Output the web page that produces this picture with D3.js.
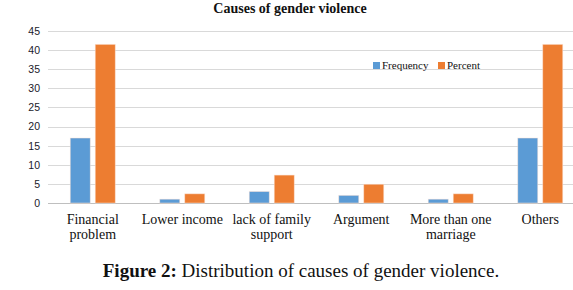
<!DOCTYPE html>
<html><head><meta charset="utf-8">
<script src="https://cdn.jsdelivr.net/npm/d3@7"></script>
<style>body{margin:0;background:#fff;} svg{display:block;} text{font-family:"Liberation Serif","DejaVu Serif",serif;}</style>
</head><body>
<svg id="c" width="573" height="290"></svg>
<script>
const categories = [["Financial","problem"],["Lower income"],["lack of family","support"],["Argument"],["More than one","marriage"],["Others"]];
const seriesNames = ["Frequency","Percent"];
const frequency = [17, 1, 3, 2, 1, 17];
const percent = [41.5, 2.4, 7.3, 4.9, 2.4, 41.5];
const yTicks = [0,5,10,15,20,25,30,35,40,45];
const colors = ["#5B9BD5","#ED7D31"];

const svg = d3.select("#c");
const x = d3.scaleBand().domain(d3.range(categories.length)).range([48, 585]).paddingInner(0).paddingOuter(0);
const y = d3.scaleLinear().domain([0,45]).range([203,31]);

svg.append("g").selectAll("line").data(yTicks).join("line")
  .attr("x1",48).attr("x2",573).attr("y1",d=>Math.round(y(d))+0.5).attr("y2",d=>Math.round(y(d))+0.5)
  .attr("stroke",d=>d===0?"#bfbfbf":"#d9d9d9").attr("stroke-width",1);

const yAxis = d3.axisLeft(y).tickValues(yTicks).tickSize(0).tickPadding(0);
const ga = svg.append("g").attr("transform","translate(40,0)").call(yAxis);
ga.select(".domain").remove();
ga.selectAll("text").style("font-family","'Liberation Sans',Arial,sans-serif").attr("font-size",10.5).attr("fill","#1a1a2a");

const bw = 20, gap = 5;
const series = [frequency, percent];
series.forEach((vals,si)=>{
  svg.append("g").selectAll("rect").data(vals).join("rect")
    .attr("x",(d,i)=>x(i)+x.bandwidth()/2 - gap/2 - bw + si*(bw+gap))
    .attr("y",d=>y(d)).attr("width",bw).attr("height",d=>y(0)-y(d))
    .attr("fill",colors[si]).attr("stroke","#fbe3d6").attr("stroke-opacity",0.6).attr("stroke-width",0.8);
});

const xl = svg.append("g");
categories.forEach((lines,i)=>{
  const t = xl.append("text").attr("x",x(i)+x.bandwidth()/2).attr("y",224)
    .attr("text-anchor","middle").attr("font-size",14).attr("fill","#111");
  lines.forEach((l,j)=>t.append("tspan").attr("x",x(i)+x.bandwidth()/2).attr("dy",j?15:0).text(l));
});

svg.append("text").attr("x",290).attr("y",13).attr("text-anchor","middle")
  .attr("font-weight","bold").attr("font-size",14).attr("fill","#111")
  .text("Causes of gender violence");

const lg = svg.append("g");
const lx = [373, 438];
seriesNames.forEach((n,i)=>{
  lg.append("rect").attr("x",lx[i]).attr("y",62).attr("width",7).attr("height",7).attr("fill",colors[i]);
  lg.append("text").attr("x",lx[i]+9).attr("y",69).attr("font-size",11).attr("fill","#111").text(n);
});

const cap = svg.append("text").attr("x",301).attr("y",277).attr("text-anchor","middle")
  .attr("font-size",19).attr("fill","#111");
cap.append("tspan").attr("font-weight","bold").text("Figure 2: ");
cap.append("tspan").text("Distribution of causes of gender violence.");
</script>
</body></html>
